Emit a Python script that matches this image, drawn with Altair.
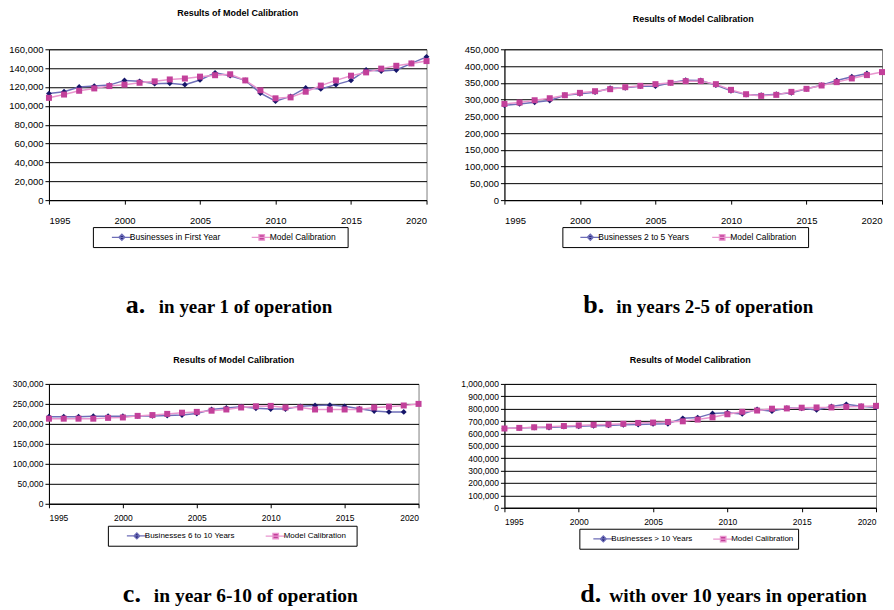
import altair as alt
import pandas as pd

years = [1995, 1996, 1997, 1998, 1999, 2000, 2001, 2002, 2003, 2004, 2005, 2006, 2007,
         2008, 2009, 2010, 2011, 2012, 2013, 2014, 2015, 2016, 2017, 2018, 2019, 2020]
year_ticks = [1995, 2000, 2005, 2010, 2015, 2020]

model_name = "Model Calibration"
chart_title = "Results of Model Calibration"

# Panel a: in year 1 of operation
a_name = "Businesses in First Year"
a_obs = [113000, 115000, 120000, 121000, 122000, 127000, 126000, 123500, 124000, 122500,
         127500, 135000, 132000, 127000, 113500, 105000, 110000, 119000, 118000, 122500,
         127000, 138000, 137000, 138000, 145000, 152000]
a_model = [108500, 112000, 116000, 118500, 121000, 122500, 124500, 126000, 128000, 129000,
           131000, 132500, 133500, 127000, 116500, 108000, 109000, 115000, 121500, 127000,
           132000, 135500, 139500, 142500, 145000, 147500]
a_ticks = [0, 20000, 40000, 60000, 80000, 100000, 120000, 140000, 160000]

# Panel b: in years 2-5 of operation
b_name = "Businesses 2 to 5 Years"
b_obs = [283000, 287000, 292000, 297000, 313000, 317000, 322000, 334000, 335000, 340000,
         340000, 350000, 358000, 357000, 343000, 326000, 315000, 313000, 316000, 320000,
         332000, 343000, 357000, 368000, 378000]
b_model = [287000, 291000, 298000, 304000, 313000, 320000, 325000, 331000, 337000, 341000,
           346000, 350000, 355000, 355000, 346000, 329000, 316000, 311000, 314000, 323000,
           332000, 342000, 352000, 363000, 373000, 382000]
b_ticks = [0, 50000, 100000, 150000, 200000, 250000, 300000, 350000, 400000, 450000]

# Panel c: in year 6-10 of operation
c_name = "Businesses 6 to 10 Years"
c_obs = [218000, 218000, 218000, 219000, 219000, 219000, 220000, 220000, 221000, 222000,
         226000, 236000, 240000, 243000, 239000, 237000, 237000, 244000, 246000, 247000,
         244000, 238000, 232000, 230000, 230000]
c_model = [213000, 213000, 213000, 213000, 215000, 216000, 220000, 222000, 225000, 228000,
           230000, 233000, 236000, 241000, 244000, 245000, 241000, 241000, 236000, 236000,
           236000, 236000, 241000, 243000, 246000, 250000]
c_ticks = [0, 50000, 100000, 150000, 200000, 250000, 300000]

# Panel d: with over 10 years in operation
d_name = "Businesses > 10 Years"
d_obs = [640000, 645000, 648000, 648000, 655000, 658000, 662000, 665000, 670000, 672000,
         677000, 678000, 722000, 728000, 762000, 768000, 758000, 795000, 780000, 805000,
         803000, 790000, 818000, 835000, 820000, 810000]
d_model = [640000, 645000, 650000, 655000, 660000, 665000, 670000, 673000, 678000, 685000,
           688000, 693000, 698000, 712000, 730000, 755000, 775000, 785000, 800000, 802000,
           808000, 810000, 810000, 815000, 818000, 823000]
d_ticks = [0, 100000, 200000, 300000, 400000, 500000, 600000, 700000, 800000, 900000, 1000000]

NAVY = "#16166a"
BLUE_LINE = "#6e6eb8"
MAGENTA = "#c2409a"
PINK_LINE = "#e996cf"

DIAMOND_PATH = "M-2,0H2M0,-0.6L0.6,0L0,0.6L-0.6,0Z"
SQUARE_PATH = "M-2,0H2M-0.55,-0.55H0.55V0.55H-0.55Z"
BLANK = "\u2800"


def panel(name, obs, model, ticks, w, h, title_offset, leg, caps, fs, xpad):
    leg_x, leg_y, left_pad, col_pad, n_blank, leg_fs = leg
    letter, caption, letter_x, text_x, cap_y, cap_fs = caps
    df = pd.DataFrame({
        "year": years[:len(obs)] + years[:len(model)],
        "value": obs + model,
        "series": [name] * len(obs) + [model_name] * len(model),
    })
    base = alt.Chart(df)
    x = alt.X("year:Q",
              scale=alt.Scale(domain=[1995, 2020], nice=False, zero=False),
              axis=alt.Axis(values=year_ticks, format="d", title=None, grid=False,
                            labelFontSize=fs, labelPadding=xpad))
    y = alt.Y("value:Q",
              scale=alt.Scale(domain=[ticks[0], ticks[-1]], nice=False),
              axis=alt.Axis(values=ticks, format=",d", title=None, grid=True,
                            labelFontSize=fs, labelPadding=2))
    domain = [name, model_name]
    legend = alt.Legend(orient="none", legendX=leg_x, legendY=leg_y, direction="horizontal",
                        title=" ", titleOrient="left", titlePadding=left_pad, titleFontSize=6,
                        strokeColor="black", fillColor="white", padding=4,
                        labelFont="Liberation Sans", labelFontSize=leg_fs, labelColor="black",
                        symbolSize=100, symbolStrokeWidth=1.3, labelOffset=2,
                        columnPadding=col_pad,
                        labelExpr="datum.label + '" + BLANK * n_blank + "'")

    obs_line = base.transform_filter(alt.datum.series == name).mark_line(
        color=BLUE_LINE, strokeWidth=1.5).encode(x=x, y=y)
    obs_pts = base.transform_filter(alt.datum.series == name).mark_point(
        shape="diamond", filled=True, size=34, color=NAVY, opacity=1).encode(x=x, y=y)
    mod_line = base.transform_filter(alt.datum.series == model_name).mark_line(
        color=PINK_LINE, strokeWidth=1.5).encode(x=x, y=y)
    mod_pts = base.transform_filter(alt.datum.series == model_name).mark_point(
        shape="square", filled=True, size=36, color=MAGENTA, opacity=1).encode(x=x, y=y)
    legend_layer = base.transform_filter("false").mark_point(
        filled=True, opacity=1, size=100).encode(
        x=x, y=y,
        fill=alt.Fill("series:N", scale=alt.Scale(domain=domain, range=[NAVY, MAGENTA]), legend=legend),
        stroke=alt.Stroke("series:N", scale=alt.Scale(domain=domain, range=[BLUE_LINE, PINK_LINE]), legend=legend),
        shape=alt.Shape("series:N", scale=alt.Scale(domain=domain, range=[DIAMOND_PATH, SQUARE_PATH]), legend=legend),
    )
    cap1 = alt.Chart(pd.DataFrame({"t": [letter]})).mark_text(
        font="Liberation Serif", fontWeight="bold", fontSize=26, align="left",
        baseline="alphabetic", color="black").encode(
        text="t:N", x=alt.value(letter_x), y=alt.value(cap_y))
    cap2 = alt.Chart(pd.DataFrame({"t": [caption]})).mark_text(
        font="Liberation Serif", fontWeight="bold", fontSize=cap_fs, align="left",
        baseline="alphabetic", color="black").encode(
        text="t:N", x=alt.value(text_x), y=alt.value(cap_y))

    return alt.layer(obs_line, obs_pts, mod_line, mod_pts, legend_layer, cap1, cap2).properties(
        width=w, height=h,
        title=alt.TitleParams(chart_title, font="Liberation Sans", fontSize=9,
                              fontWeight="bold", offset=title_offset, frame="group",
                              anchor="middle", color="black"),
    )


pa = panel(a_name, a_obs, a_model, a_ticks, 378, 151, 26,
           (44, 178, 19, 21, 1, 8.5),
           ("a.", "in year 1 of operation", 77, 110, 264, 19), 9.5, 11)
pb = panel(b_name, b_obs, b_model, b_ticks, 378, 151, 20,
           (58, 178, 18, 13, 1, 8.5),
           ("b.", "in years 2-5 of operation", 79, 112, 264, 19), 9.5, 11)
pc = panel(c_name, c_obs, c_model, c_ticks, 370, 120, 15,
           (59, 142, 19, 22, 1, 8),
           ("c.", "in year 6-10 of operation", 74, 105, 218, 19.5), 8.5, 6)
pd_ = panel(d_name, d_obs, d_model, d_ticks, 372, 124, 15,
            (75, 145, 14, 17, 0, 8),
            ("d.", "with over 10 years in operation", 76, 105, 218, 19.5), 8.5, 6)

chart = alt.concat(
    pa, pb, pc, pd_, columns=2, spacing={"row": 184, "column": 78}, bounds="flush",
    padding={"left": 0, "top": 0, "right": 0, "bottom": 0},
).resolve_scale(
    fill="independent", stroke="independent", shape="independent"
).resolve_legend(
    fill="independent", stroke="independent", shape="independent"
).configure_view(
    stroke="#808080"
).configure_axis(
    domainColor="black", tickColor="black", labelColor="black", gridColor="black",
    gridWidth=1, tickSize=4, domainWidth=1, labelFont="Liberation Sans",
)

chart.save("out.html", embed_options={"renderer": "svg", "actions": False})
